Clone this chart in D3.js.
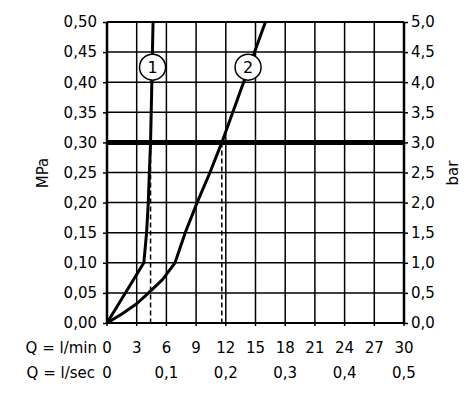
<!DOCTYPE html>
<html>
<head>
<meta charset="utf-8">
<script src="https://cdn.jsdelivr.net/npm/d3@7"></script>
<style>
  body { margin: 0; background: #fff; }
  svg { display: block; }
  text { font-family: "DejaVu Sans", sans-serif; fill: #000; }
</style>
</head>
<body>
<script>
'use strict';

// flow in l/min (x) and pressure in MPa (y)
const flowTicks = [0, 3, 6, 9, 12, 15, 18, 21, 24, 27, 30];
const secTicks = [0, 6, 12, 18, 24, 30];
const secLabels = ["0", "0,1", "0,2", "0,3", "0,4", "0,5"];
const mpaTicks = [0, 0.05, 0.10, 0.15, 0.20, 0.25, 0.30, 0.35, 0.40, 0.45, 0.50];
const barLabels = ["0,0", "0,5", "1,0", "1,5", "2,0", "2,5", "3,0", "3,5", "4,0", "4,5", "5,0"];

const curve1 = [[0, 0], [3.72, 0.10], [4.0, 0.15], [4.17, 0.20], [4.28, 0.25], [4.4, 0.30], [4.53, 0.40], [4.65, 0.50]];
const curve2 = [[0, 0], [1.5, 0.015], [3, 0.032], [4.2, 0.05], [5.6, 0.072], [6.87, 0.10], [7.9, 0.15], [9.1, 0.20], [10.4, 0.25], [11.6, 0.30], [13.8, 0.40], [16, 0.50]];
const labels = [{ id: "1", q: 4.6, p: 0.425 }, { id: "2", q: 14.25, p: 0.425 }];
const workPressure = 0.30;
const workFlows = [4.4, 11.6];

const width = 471, height = 396;
const m = { left: 107, right: 404, top: 22, bottom: 323 };

const svg = d3.select("body").append("svg")
  .attr("width", width)
  .attr("height", height);

const x = d3.scaleLinear().domain([0, 30]).range([m.left, m.right]);
const y = d3.scaleLinear().domain([0, 0.5]).range([m.bottom, m.top]);

const comma = v => d3.format(".2f")(v).replace(".", ",");

// grid
svg.append("g").selectAll("line").data(flowTicks).enter().append("line")
  .attr("x1", d => x(d)).attr("x2", d => x(d))
  .attr("y1", m.top).attr("y2", m.bottom + 3)
  .attr("stroke", "#000").attr("stroke-width", 1.5);
svg.append("g").selectAll("line").data(mpaTicks).enter().append("line")
  .attr("x1", m.left).attr("x2", m.right)
  .attr("y1", d => y(d)).attr("y2", d => y(d))
  .attr("stroke", "#000").attr("stroke-width", 1.5);

// dashed drop lines
svg.append("g").selectAll("line").data(workFlows).enter().append("line")
  .attr("x1", d => x(d)).attr("x2", d => x(d))
  .attr("y1", y(workPressure)).attr("y2", m.bottom)
  .attr("stroke", "#000").attr("stroke-width", 1.5)
  .attr("stroke-dasharray", "5,3");

// working pressure line
svg.append("line")
  .attr("x1", m.left).attr("x2", m.right)
  .attr("y1", y(workPressure)).attr("y2", y(workPressure))
  .attr("stroke", "#000").attr("stroke-width", 5);

// curves
const line = d3.line().x(d => x(d[0])).y(d => y(d[1]));
[curve1, curve2].forEach(c => {
  svg.append("path").datum(c)
    .attr("d", line)
    .attr("fill", "none")
    .attr("stroke", "#000")
    .attr("stroke-width", 3)
    .attr("stroke-linejoin", "round");
});

// curve labels
const lab = svg.append("g").selectAll("g").data(labels).enter().append("g")
  .attr("transform", d => "translate(" + x(d.q) + "," + y(d.p) + ")");
lab.append("circle").attr("r", 13)
  .attr("fill", "#fff").attr("stroke", "#000").attr("stroke-width", 1.5);
lab.append("text").attr("text-anchor", "middle").attr("dy", "0.36em")
  .style("font-size", "16px").text(d => d.id);

// frame
svg.append("line").attr("x1", m.left).attr("x2", m.right).attr("y1", m.top).attr("y2", m.top)
  .attr("stroke", "#000").attr("stroke-width", 2);
svg.append("line").attr("x1", m.left).attr("x2", m.right).attr("y1", m.bottom).attr("y2", m.bottom)
  .attr("stroke", "#000").attr("stroke-width", 2);
[m.left, m.right].forEach(px => {
  svg.append("line").attr("x1", px).attr("x2", px).attr("y1", m.top).attr("y2", m.bottom)
    .attr("stroke", "#000").attr("stroke-width", 2.5);
});

// left axis MPa
const yLeft = d3.axisLeft(y).tickValues(mpaTicks).tickSize(4).tickPadding(6).tickFormat(comma);
svg.append("g").attr("transform", "translate(" + m.left + ",0)").call(yLeft)
  .call(g => g.select(".domain").remove())
  .call(g => g.selectAll("line").attr("stroke-width", 1.5))
  .call(g => g.selectAll("text").style("font-size", "15px").attr("font-family", null));

// right axis bar
const yRight = d3.axisRight(y).tickValues(mpaTicks).tickSize(4).tickPadding(3)
  .tickFormat((d, i) => barLabels[i]);
svg.append("g").attr("transform", "translate(" + m.right + ",0)").call(yRight)
  .call(g => g.select(".domain").remove())
  .call(g => g.selectAll("line").attr("stroke-width", 1.5))
  .call(g => g.selectAll("text").style("font-size", "15px").attr("font-family", null));

// bottom labels
svg.append("g").selectAll("text").data(flowTicks).enter().append("text")
  .attr("x", d => x(d)).attr("y", 353)
  .attr("text-anchor", "middle").style("font-size", "15px")
  .text(d => d);
svg.append("g").selectAll("text").data(secTicks).enter().append("text")
  .attr("x", d => x(d)).attr("y", 378)
  .attr("text-anchor", "middle").style("font-size", "15px")
  .text((d, i) => secLabels[i]);

svg.append("text").attr("x", 97).attr("y", 353).attr("text-anchor", "end")
  .style("font-size", "15px").text("Q = l/min");
svg.append("text").attr("x", 95).attr("y", 378).attr("text-anchor", "end")
  .style("font-size", "15px").text("Q = l/sec");

// axis titles
svg.append("text").attr("transform", "translate(48,173) rotate(-90)")
  .attr("text-anchor", "middle").style("font-size", "15px").text("MPa");
svg.append("text").attr("transform", "translate(458,173) rotate(-90)")
  .attr("text-anchor", "middle").style("font-size", "15px").text("bar");
</script>
</body>
</html>
